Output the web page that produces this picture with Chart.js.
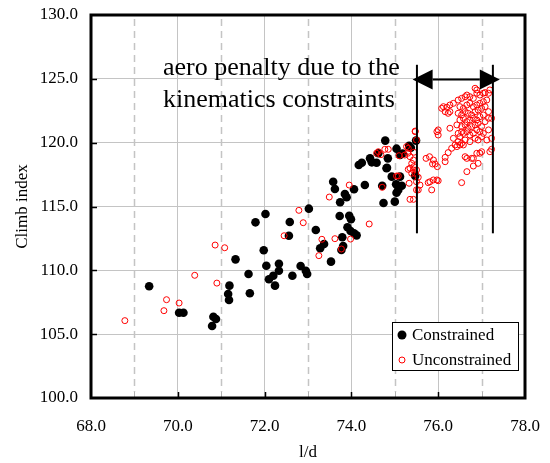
<!DOCTYPE html>
<html><head><meta charset="utf-8">
<script src="https://cdn.jsdelivr.net/npm/chart.js@4.4.0/dist/chart.umd.min.js"></script>
<style>html,body{margin:0;padding:0;background:#fff;} canvas{display:block;}</style>
</head><body>
<canvas id="c" width="550" height="463"></canvas>
<script>
// ---------- data ----------
const seriesLabels = ['Constrained', 'Unconstrained'];
const xTitle = 'l/d';
const yTitle = 'Climb index';
const noteLines = ['aero penalty due to the', 'kinematics constraints'];

const constrainedX = [69.34,70.03,70.13,70.82,70.88,70.79,71.19,71.16,71.18,71.33,71.63,71.66,71.79,72.02,71.98,72.04,72.10,72.20,72.24,72.33,72.33,72.64,72.83,72.95,72.98,72.58,72.56,73.02,73.18,73.28,73.37,73.53,73.58,73.62,73.74,73.85,73.89,73.73,73.95,73.99,73.91,73.98,74.06,74.12,73.79,73.81,73.77,74.06,74.31,74.17,74.24,74.43,74.47,74.58,74.62,74.78,74.84,74.82,74.71,74.74,75.04,75.12,75.03,75.04,75.16,75.00,75.12,75.37,75.49,75.33,75.47,74.93,74.81,75.08,75.18];
const constrainedY = [108.75,106.68,106.68,106.37,106.19,105.64,108.80,108.15,107.68,110.86,109.71,108.20,113.76,114.41,111.57,110.36,109.30,109.58,108.80,110.52,109.97,109.58,110.34,109.97,109.71,113.79,112.71,114.83,113.16,111.73,112.06,110.68,116.94,116.37,115.33,115.98,115.72,114.26,114.28,114.00,113.37,113.08,112.90,112.74,112.59,111.90,111.59,116.35,116.68,118.25,118.43,118.77,118.46,118.43,119.17,120.16,118.77,118.04,116.63,115.27,119.53,119.03,116.74,116.08,116.63,115.38,117.34,119.60,120.16,119.75,117.40,117.34,118.00,116.30,119.15];

const unconstrainedX = [68.78,69.68,69.74,70.03,70.39,70.86,71.08,70.90,72.79,72.89,72.45,73.49,73.95,74.71,73.32,73.62,73.98,73.77,73.25,74.41,74.58,74.62,74.68,74.77,74.85,75.10,75.04,75.08,75.33,75.35,75.43,75.31,75.27,75.30,75.47,75.50,75.39,75.43,75.35,75.43,75.47,75.50,75.50,75.44,75.35,75.44,75.31,75.50,75.39,75.54,75.58,75.54,75.23,75.72,75.80,75.89,75.93,75.87,75.98,76.16,76.16,76.23,75.77,75.81,75.89,75.97,76.00,75.85,76.54,76.58,76.62,76.66,76.66,76.81,76.81,76.92,76.89,76.96,77.00,77.19,77.23,75.97,76.00,76.00,
76.08,76.12,76.20,76.27,76.35,76.23,76.27,76.16,76.46,76.54,76.62,76.66,76.73,76.81,76.89,76.96,77.04,77.08,77.16,77.19,76.89,76.85,76.50,76.58,76.66,76.73,76.81,76.89,76.96,77.04,77.12,76.46,76.54,76.62,76.69,76.77,76.85,76.92,77.00,77.08,76.50,76.58,76.66,76.73,76.81,76.89,76.96,77.04,77.16,76.54,76.62,76.69,76.77,76.85,76.92,77.00,77.08,77.16,76.58,76.66,76.73,76.81,76.89,76.96,77.04,77.23,77.16,76.62,76.73,76.85,76.92,77.12,77.00,77.23,76.27,76.35,76.43,76.46,76.50,76.54,76.54,76.39,76.43,76.50,76.46,76.31,75.47,76.77];
const unconstrainedY = [106.06,106.84,107.70,107.44,109.61,111.98,111.77,109.00,114.70,113.73,112.71,115.74,116.68,116.50,112.43,112.48,112.45,111.67,111.15,113.63,119.17,119.29,119.06,119.48,119.48,118.98,117.39,117.39,116.82,115.56,115.56,119.56,119.69,119.17,120.91,120.21,118.38,118.64,118.00,117.86,117.60,116.94,116.30,119.25,118.90,118.12,117.91,117.86,117.60,117.29,116.68,116.30,119.03,118.77,118.90,118.64,118.33,118.33,118.12,118.85,118.51,119.22,116.87,116.94,117.08,117.08,117.02,116.30,116.87,119.82,118.90,118.77,117.73,118.77,118.17,118.38,119.17,119.17,119.29,119.29,119.48,120.86,121.00,120.60,
122.69,122.82,122.77,122.95,123.08,122.30,122.43,122.43,123.34,123.47,123.60,123.73,123.60,123.47,123.87,123.73,123.87,123.92,123.87,124.13,124.13,124.26,122.82,122.69,122.95,123.08,122.82,122.95,123.08,123.21,123.34,122.30,122.17,122.43,122.30,122.17,122.43,122.56,122.69,122.82,121.78,121.91,121.65,121.78,121.91,121.78,122.04,122.17,122.43,121.26,121.39,121.13,121.26,121.39,121.52,121.26,121.65,121.91,120.73,120.86,120.60,120.73,121.00,120.86,120.73,121.91,121.00,120.21,120.08,120.34,120.21,120.21,120.47,120.34,121.13,120.34,121.39,120.73,120.47,120.86,119.95,119.82,119.69,119.82,120.08,119.56,120.86,118.77];

// annotation values (data units)
const bracketLeftX = 75.51, bracketRightX = 77.26;
const bracketTopY = 126.1, bracketBottomY = 112.9;
const arrowY = 124.95, arrowFromX = 75.41, arrowToX = 77.42;
const noteX = 69.66, noteY1 = 125.3, noteY2 = 122.79;

const toPoints = (xs, ys) => xs.map((x, i) => ({x: x, y: ys[i]}));

const FONT = '"Liberation Serif", "Times New Roman", serif';
Chart.defaults.font.family = FONT;
Chart.defaults.color = '#000';

const customDraw = {
  id: 'customDraw',
  beforeDatasetsDraw(chart) {
    const {ctx, chartArea: a, scales: {x, y}} = chart;
    ctx.save();
    ctx.strokeStyle = '#c4c4c4';
    ctx.lineWidth = 1.5;
    ctx.setLineDash([7, 5]);
    for (let v = 69; v <= 77; v += 2) {
      const px = Math.round(x.getPixelForValue(v)) + 0.5;
      ctx.beginPath(); ctx.moveTo(px, a.top + 4); ctx.lineTo(px, a.bottom - 6); ctx.stroke();
    }
    ctx.setLineDash([]);
    ctx.strokeStyle = '#b0b0b0'; ctx.lineWidth = 1;
    for (let v = 69; v <= 77; v += 2) {
      const px = Math.round(x.getPixelForValue(v)) + 0.5;
      ctx.beginPath(); ctx.moveTo(px, a.bottom); ctx.lineTo(px, a.bottom - 6); ctx.stroke();
    }
    ctx.strokeStyle = '#000'; ctx.lineWidth = 1.5;
    for (let v = 70; v <= 76; v += 2) {
      const px = Math.round(x.getPixelForValue(v)) + 0.5;
      ctx.beginPath(); ctx.moveTo(px, a.bottom); ctx.lineTo(px, a.bottom - 6); ctx.stroke();
    }
    for (let v = 105; v <= 125; v += 5) {
      const py = Math.round(y.getPixelForValue(v)) + 0.5;
      ctx.beginPath(); ctx.moveTo(a.left, py); ctx.lineTo(a.left + 6, py); ctx.stroke();
    }
    ctx.restore();
  },
  afterDatasetsDraw(chart) {
    const {ctx, chartArea: a, scales: {x, y}} = chart;
    ctx.save();
    ctx.strokeStyle = '#000'; ctx.lineWidth = 3;
    ctx.strokeRect(a.left, a.top, a.right - a.left, a.bottom - a.top);
    ctx.lineWidth = 2;
    [bracketLeftX, bracketRightX].forEach(v => {
      const px = x.getPixelForValue(v);
      ctx.beginPath(); ctx.moveTo(px, y.getPixelForValue(bracketTopY)); ctx.lineTo(px, y.getPixelForValue(bracketBottomY)); ctx.stroke();
    });
    const ay = y.getPixelForValue(arrowY);
    const ax1 = x.getPixelForValue(arrowFromX), ax2 = x.getPixelForValue(arrowToX);
    const hl = 20, hw = 10;
    ctx.beginPath(); ctx.moveTo(ax1 + hl, ay); ctx.lineTo(ax2 - hl, ay); ctx.stroke();
    ctx.fillStyle = '#000';
    ctx.beginPath(); ctx.moveTo(ax1, ay); ctx.lineTo(ax1 + hl, ay - hw); ctx.lineTo(ax1 + hl, ay + hw); ctx.closePath(); ctx.fill();
    ctx.beginPath(); ctx.moveTo(ax2, ay); ctx.lineTo(ax2 - hl, ay - hw); ctx.lineTo(ax2 - hl, ay + hw); ctx.closePath(); ctx.fill();
    ctx.font = '26px ' + FONT;
    ctx.textAlign = 'left'; ctx.textBaseline = 'alphabetic';
    ctx.fillText(noteLines[0], x.getPixelForValue(noteX), y.getPixelForValue(noteY1));
    ctx.fillText(noteLines[1], x.getPixelForValue(noteX), y.getPixelForValue(noteY2));
    const bx = a.right - 133, by = a.bottom - 76, bw = 126, bh = 48;
    ctx.fillStyle = '#fff'; ctx.fillRect(bx, by, bw, bh);
    ctx.strokeStyle = '#000'; ctx.lineWidth = 1;
    ctx.strokeRect(bx + 0.5, by + 0.5, bw, bh);
    ctx.font = '17px ' + FONT; ctx.textBaseline = 'middle'; ctx.fillStyle = '#000';
    const ds = chart.data.datasets;
    const rows = [by + 13, by + 38];
    ctx.beginPath(); ctx.arc(bx + 10, rows[0], 4.5, 0, Math.PI * 2); ctx.fillStyle = ds[1].backgroundColor; ctx.fill();
    ctx.fillStyle = '#000'; ctx.fillText(ds[1].label, bx + 20, rows[0] + 1);
    ctx.beginPath(); ctx.arc(bx + 10, rows[1], 3, 0, Math.PI * 2); ctx.strokeStyle = ds[0].borderColor; ctx.lineWidth = 1; ctx.stroke();
    ctx.fillStyle = '#000'; ctx.fillText(ds[0].label, bx + 20, rows[1] + 1);
    ctx.restore();
  }
};

new Chart(document.getElementById('c'), {
  type: 'scatter',
  data: {
    datasets: [
      { label: seriesLabels[1], data: toPoints(unconstrainedX, unconstrainedY), order: 0,
        pointRadius: 3, pointBorderWidth: 1, borderColor: '#ff0000', backgroundColor: 'rgba(0,0,0,0)', pointStyle: 'circle' },
      { label: seriesLabels[0], data: toPoints(constrainedX, constrainedY), order: 1,
        pointRadius: 4.3, pointBorderWidth: 0, borderColor: '#000', backgroundColor: '#000', pointStyle: 'circle' }
    ]
  },
  options: {
    responsive: false, animation: false, devicePixelRatio: 1,
    layout: { padding: { top: 15, right: 25, left: 0, bottom: 0 } },
    plugins: { legend: { display: false }, tooltip: { enabled: false } },
    scales: {
      x: {
        type: 'linear', min: 68, max: 78,
        ticks: { stepSize: 2, autoSkip: false, maxRotation: 0, padding: 18, font: { size: 17 }, color: '#000',
                 callback: v => Number(v).toFixed(1) },
        grid: { color: '#c4c4c4', lineWidth: 1, drawTicks: false },
        border: { display: false },
        title: { display: true, text: xTitle, font: { size: 17 }, color: '#000', padding: { top: 0, bottom: 0 } },
        afterFit: s => { s.height = 65; s.paddingLeft = 0; s.paddingRight = 0; s.paddingTop = 0; s.paddingBottom = 0; }
      },
      y: {
        type: 'linear', min: 100, max: 130,
        ticks: { stepSize: 5, padding: 13, font: { size: 17 }, color: '#000',
                 callback: v => Number(v).toFixed(1) },
        grid: { color: '#c4c4c4', lineWidth: 1, drawTicks: false },
        border: { display: false },
        title: { display: true, text: yTitle, font: { size: 17 }, color: '#000', padding: { top: 12, bottom: 0 } },
        afterFit: s => { s.width = 91; s.paddingLeft = 0; s.paddingRight = 0; s.paddingTop = 0; s.paddingBottom = 0; }
      }
    }
  },
  plugins: [customDraw]
});
</script>
</body></html>
